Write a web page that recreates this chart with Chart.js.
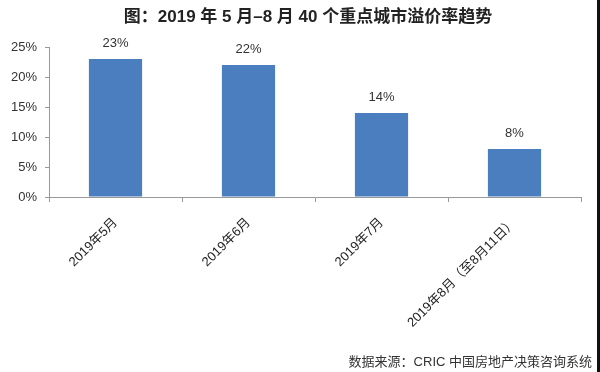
<!DOCTYPE html>
<html>
<head>
<meta charset="utf-8">
<script src="https://cdn.jsdelivr.net/npm/chart.js@4"></script>
<style>
  html, body { margin: 0; padding: 0; background: #fff; }
  #wrap { position: relative; width: 600px; height: 372px; }
</style>
</head>
<body>
<div id="wrap"><canvas id="c" width="600" height="372"></canvas></div>
<script>
const categories = ['2019年5月', '2019年6月', '2019年7月', '2019年8月（至8月11日）'];
const premiumRate = [23, 22, 14, 8];
const yTicks = [0, 5, 10, 15, 20, 25];

const titleText = '图：2019 年 5 月–8 月 40 个重点城市溢价率趋势';
const sourceText = '数据来源：CRIC 中国房地产决策咨询系统';
const FONT = '"Liberation Sans", Arial, "Noto Sans CJK SC", sans-serif';

// title, source line, value labels and the dark right edge of the picture
const extras = {
  id: 'extras',
  afterDatasetsDraw(chart) {
    const ctx = chart.ctx;
    ctx.save();
    ctx.fillStyle = '#222';
    ctx.font = 'bold 17px ' + FONT;
    ctx.textAlign = 'center';
    ctx.textBaseline = 'middle';
    ctx.fillText(titleText, 308, 17);

    ctx.font = '13px ' + FONT;
    ctx.fillStyle = '#333';
    ctx.textAlign = 'right';
    ctx.fillText(sourceText, 592, 362);

    const meta = chart.getDatasetMeta(0);
    ctx.textAlign = 'center';
    ctx.textBaseline = 'bottom';
    meta.data.forEach((bar, i) => {
      ctx.fillText(premiumRate[i] + '%', bar.x, bar.y - 9);
    });

    ctx.fillStyle = '#111';
    ctx.fillRect(597, 0, 3, chart.height);
    ctx.restore();
  }
};

new Chart(document.getElementById('c'), {
  type: 'bar',
  data: {
    labels: categories,
    datasets: [{
      data: premiumRate,
      backgroundColor: '#4a7ebf',
      categoryPercentage: 0.4,
      barPercentage: 1
    }]
  },
  options: {
    responsive: false,
    animation: false,
    layout: { padding: { top: 47, right: 19, left: 0, bottom: 0 } },
    plugins: { legend: { display: false }, tooltip: { enabled: false }, title: { display: false } },
    scales: {
      x: {
        grid: { offset: true, drawOnChartArea: false, color: '#999', tickLength: 5 },
        border: { color: '#999' },
        ticks: {
          minRotation: 45, maxRotation: 45, autoSkip: false,
          color: '#222', font: { size: 13, family: FONT }, padding: 13
        },
        afterFit(s) { s.height = 175; }
      },
      y: {
        min: 0, max: 25,
        afterBuildTicks(s) { s.ticks = yTicks.map(v => ({ value: v })); },
        grid: { drawOnChartArea: false, color: '#999', tickLength: 4 },
        border: { color: '#999' },
        ticks: {
          color: '#333', font: { size: 13, family: FONT }, padding: 8,
          callback: v => v + '%'
        },
        afterFit(s) { s.width = 49; }
      }
    }
  },
  plugins: [extras]
});
</script>
</body>
</html>
